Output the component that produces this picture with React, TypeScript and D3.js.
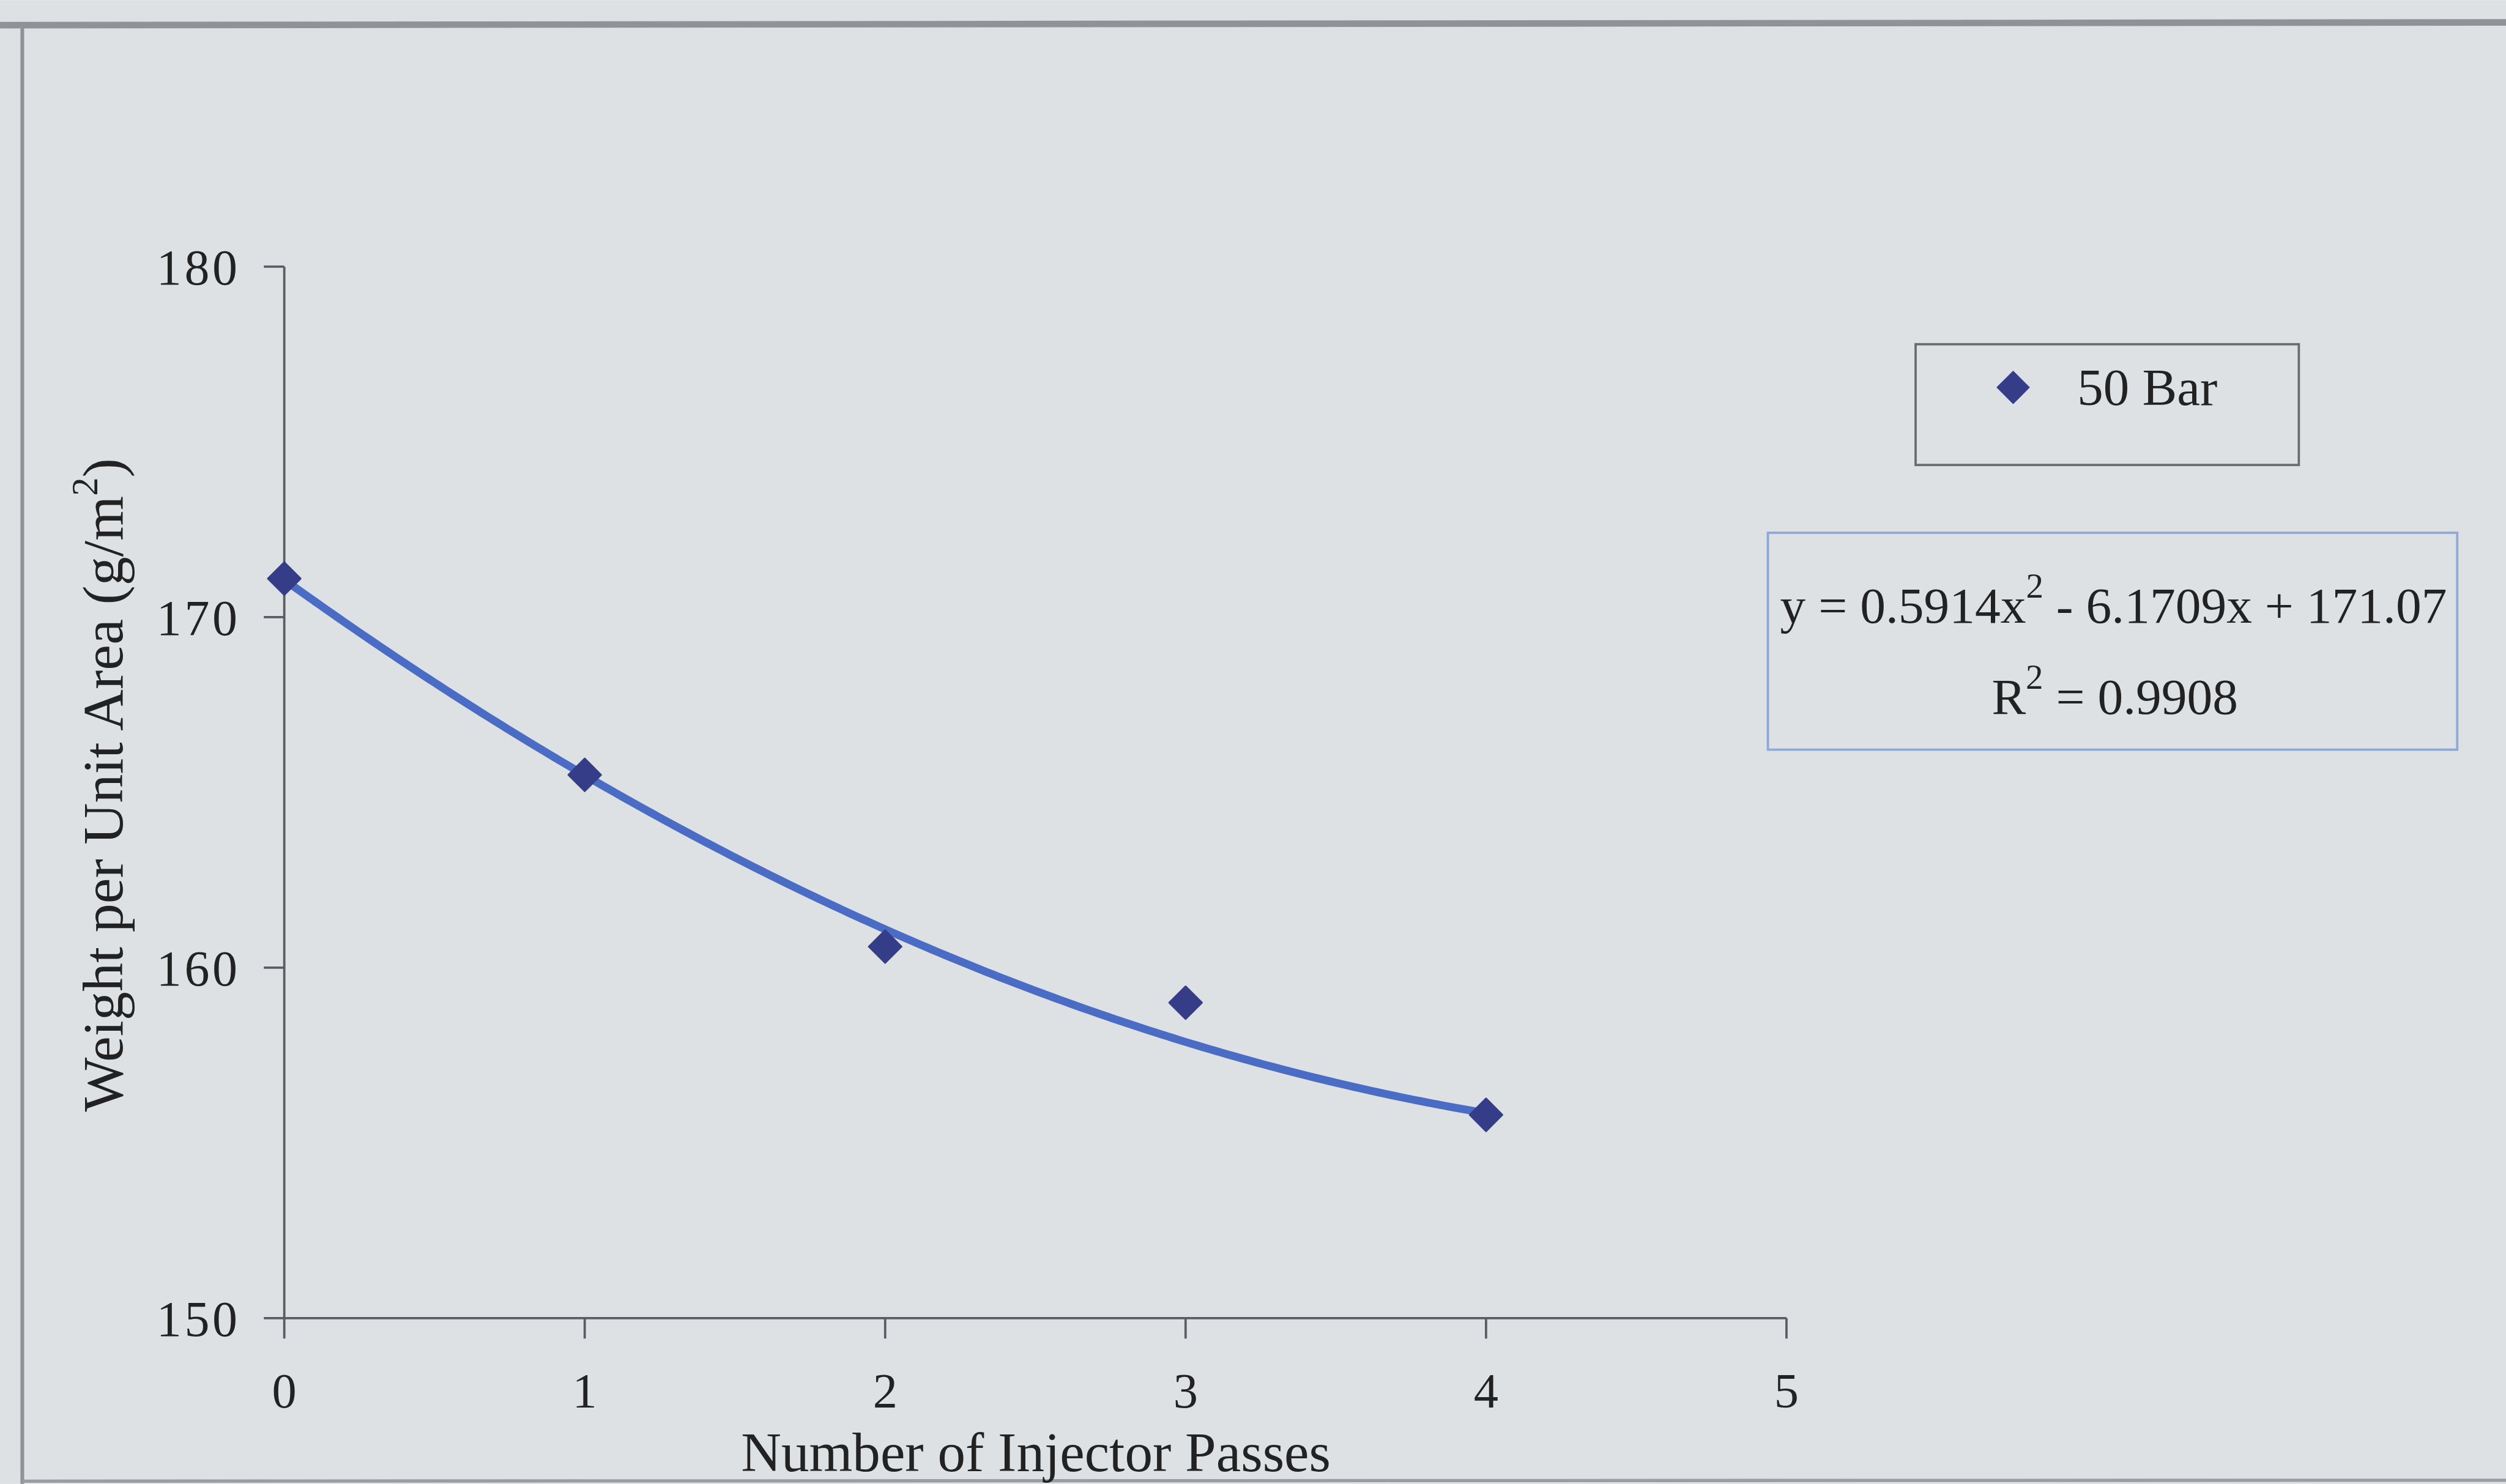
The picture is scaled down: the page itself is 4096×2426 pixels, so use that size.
import React from "react";
import * as d3 from "d3";

// Measured weight per unit area (g/m²) after each number of injector passes, 50 bar
const passes = [0, 1, 2, 3, 4];
const weights = [171.1, 165.5, 160.6, 159.0, 155.8];

// Second-order polynomial trendline, as printed in the equation box
const trendCoefficients = [0.5914, -6.1709, 171.07]; // a·x² + b·x + c
const rSquared = 0.9908;

const xTicks = [0, 1, 2, 3, 4, 5];
const yTicks = [150, 160, 170, 180];
const seriesName = "50 Bar";
const xTitle = "Number of Injector Passes";

const W = 5395;
const H = 3195;
const FONT = "'Liberation Serif', 'Times New Roman', serif";

// d3.symbolDiamond2 puts its corners at 0.62625·√size from the centre
const diamondSize = (halfDiagonal: number) => (halfDiagonal / 0.62625) ** 2;

export default function App() {
  const x = d3.scaleLinear().domain([0, 5]).range([612, 3846]);
  const y = d3.scaleLinear().domain([150, 180]).range([2838, 574]);

  const [a, b, c] = trendCoefficients;
  const trendX = d3.range(0, 4.0001, 0.02);
  const trendPath = d3
    .line<number>()
    .x((d) => x(d))
    .y((d) => y(a * d * d + b * d + c))
    .curve(d3.curveMonotoneX)(trendX);

  const diamond = d3.symbol().type(d3.symbolDiamond2).size(diamondSize(35))();
  const legendDiamond = d3.symbol().type(d3.symbolDiamond2).size(diamondSize(36))();

  const tick = 44;
  const axisColor = "#5a5d62";

  return (
    <svg
      width={4096}
      height={2426}
      viewBox={`0 0 ${W} ${H}`}
      style={{ position: "absolute", left: 0, top: 0, display: "block" }}
    >
      <rect x={0} y={0} width={W} height={H} fill="#dde1e4" />
      {/* outer frame */}
      <line x1={0} y1={54} x2={W} y2={48} stroke="#8f9397" strokeWidth={14} />
      <line x1={48} y1={52} x2={48} y2={H} stroke="#8f9397" strokeWidth={8} />
      <line x1={48} y1={3189} x2={W} y2={3187} stroke="#9a9ea2" strokeWidth={7} />

      {/* y axis */}
      <line x1={x(0)} y1={y(180)} x2={x(0)} y2={y(150)} stroke={axisColor} strokeWidth={5} />
      {yTicks.map((t) => (
        <g key={"y" + t}>
          <line x1={x(0) - tick} x2={x(0)} y1={y(t)} y2={y(t)} stroke={axisColor} strokeWidth={5} />
          <text
            x={x(0) - 95}
            y={y(t)}
            dy="0.35em"
            textAnchor="end"
            fontFamily={FONT}
            fontSize={108}
            fill="#222"
            letterSpacing={6}
          >
            {t}
          </text>
        </g>
      ))}

      {/* x axis */}
      <line x1={x(0)} y1={y(150)} x2={x(5)} y2={y(150)} stroke={axisColor} strokeWidth={5} />
      {xTicks.map((t) => (
        <g key={"x" + t}>
          <line x1={x(t)} x2={x(t)} y1={y(150)} y2={y(150) + tick} stroke={axisColor} strokeWidth={5} />
          <text
            x={x(t)}
            y={3030}
            textAnchor="middle"
            fontFamily={FONT}
            fontSize={106}
            fill="#222"
          >
            {t}
          </text>
        </g>
      ))}

      {/* axis titles */}
      <text
        x={2230}
        y={3168}
        textAnchor="middle"
        fontFamily={FONT}
        fontSize={120}
        fill="#222"
      >
        {xTitle}
      </text>
      <text
        transform={`translate(264, 1690) rotate(-90)`}
        textAnchor="middle"
        fontFamily={FONT}
        fontSize={124}
        fill="#222"
      >
        Weight per Unit Area (g/m
        <tspan dy={-54} fontSize={80}>
          2
        </tspan>
        <tspan dy={54}>)</tspan>
      </text>

      {/* trendline */}
      <path
        d={trendPath ?? ""}
        fill="none"
        stroke="#4a6cc4"
        strokeWidth={17}
        strokeLinecap="round"
        strokeLinejoin="round"
      />

      {/* data markers */}
      {passes.map((p, i) => (
        <path
          key={"m" + p}
          d={diamond ?? ""}
          transform={`translate(${x(p)}, ${y(weights[i])})`}
          fill="#363d88"
          stroke="#363d88"
          strokeWidth={4}
          strokeLinejoin="round"
        />
      ))}

      {/* legend */}
      <rect x={4124} y={741} width={825} height={260} fill="none" stroke="#6a6d70" strokeWidth={5} />
      <path d={legendDiamond ?? ""} transform="translate(4334, 834)" fill="#363d88" />
      <text x={4472} y={872} fontFamily={FONT} fontSize={112} fill="#222">
        {seriesName}
      </text>

      {/* trendline equation */}
      <rect x={3806} y={1147} width={1484} height={467} fill="none" stroke="#8fa8d8" strokeWidth={5} />
      <text x={4550} y={1341} textAnchor="middle" fontFamily={FONT} fontSize={110} fill="#222">
        y = {a.toFixed(4)}x
        <tspan dy={-54} fontSize={75}>
          2
        </tspan>
        <tspan dy={54}>
          {" "}- {Math.abs(b).toFixed(4)}x + {c.toFixed(2)}
        </tspan>
      </text>
      <text x={4553} y={1537} textAnchor="middle" fontFamily={FONT} fontSize={110} fill="#222">
        R
        <tspan dy={-54} fontSize={75}>
          2
        </tspan>
        <tspan dy={54}> = {rSquared.toFixed(4)}</tspan>
      </text>
    </svg>
  );
}
